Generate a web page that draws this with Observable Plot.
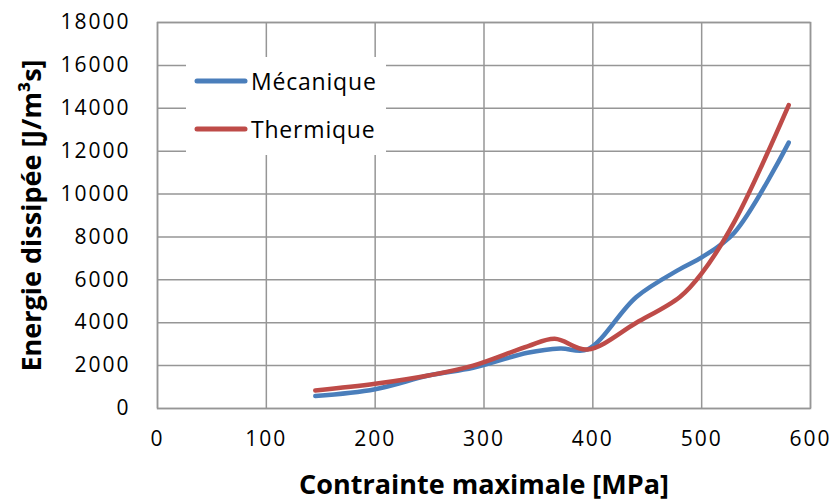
<!DOCTYPE html>
<html>
<head>
<meta charset="utf-8">
<script src="https://cdn.jsdelivr.net/npm/d3@7"></script>
<script src="https://cdn.jsdelivr.net/npm/@observablehq/plot@0.6"></script>
<style>
  html, body { margin: 0; padding: 0; background: #fff; }
  #wrap { position: relative; width: 834px; height: 504px; }
  #legend { position: absolute; left: 186px; top: 57px; width: 200px; height: 98px; background: #fff;
            font-family: "Open Sans", sans-serif; font-size: 23px; letter-spacing: 0.8px; color: #000; }
  .item { position: absolute; left: 8px; display: flex; align-items: center; }
  .item svg { display: block; margin-right: 3px; }
  #chart svg g[aria-label="x-axis tick label"],
  #chart svg g[aria-label="y-axis tick label"] { font-size: 21px; letter-spacing: 2px; fill: #000; }
</style>
</head>
<body>
<div id="wrap">
  <div id="chart"></div>
  <div id="legend"></div>
</div>
<script>
const seriesNames = ["Mécanique", "Thermique"];
const seriesColors = ["#4a7ebb", "#be4b48"];
const stressMeca = [145, 200, 250, 290, 340, 370, 395, 440, 480, 500, 530, 580];
const energyMeca = [580, 900, 1550, 1900, 2600, 2800, 2750, 5200, 6500, 7050, 8200, 12400];
const stressTherm = [145, 200, 250, 290, 340, 365, 395, 440, 480, 500, 530, 580];
const energyTherm = [840, 1150, 1550, 2000, 2900, 3250, 2750, 4000, 5200, 6300, 8700, 14150];
const xTicks = [0, 100, 200, 300, 400, 500, 600];
const yTicks = [0, 2000, 4000, 6000, 8000, 10000, 12000, 14000, 16000, 18000];
const xTitle = "Contrainte maximale [MPa]";
const yTitle = "Energie dissipée [J/m³s]";

const rows = [];
stressMeca.forEach((s, i) => rows.push({serie: seriesNames[0], x: s, y: energyMeca[i]}));
stressTherm.forEach((s, i) => rows.push({serie: seriesNames[1], x: s, y: energyTherm[i]}));

const chart = Plot.plot({
  width: 834,
  height: 504,
  marginLeft: 157,
  marginRight: 24,
  marginTop: 22,
  marginBottom: 96,
  style: {fontFamily: "Open Sans, sans-serif", color: "#000", background: "#fff"},
  x: {domain: [0, 600]},
  y: {domain: [0, 18000]},
  color: {domain: seriesNames, range: seriesColors},
  marks: [
    Plot.gridX(xTicks, {stroke: "#969696", strokeOpacity: 1, strokeWidth: 1.5}),
    Plot.gridY(yTicks, {stroke: "#969696", strokeOpacity: 1, strokeWidth: 1.5}),
    Plot.frame({stroke: "#969696", strokeWidth: 1.5}),
    Plot.axisX(xTicks, {tickSize: 0, tickPadding: 23, fontSize: 21, tickFormat: d3.format("d"),
      label: xTitle, labelAnchor: "center", labelArrow: "none", labelOffset: 85}),
    Plot.axisY(yTicks, {tickSize: 0, tickPadding: 27, fontSize: 21, tickFormat: d3.format("d"),
      label: yTitle, labelAnchor: "center", labelArrow: "none", labelOffset: 136}),
    Plot.line(rows, {x: "x", y: "y", z: "serie", stroke: "serie", strokeWidth: 4.5,
      curve: "catmull-rom", strokeLinecap: "round"})
  ]
});
d3.select(chart).selectAll('g[aria-label="x-axis label"] text, g[aria-label="y-axis label"] text')
  .attr("font-weight", "bold").attr("font-size", 27);
document.getElementById("chart").appendChild(chart);

const legend = document.getElementById("legend");
seriesNames.forEach((n, i) => {
  const d = document.createElement("div");
  d.className = "item";
  d.style.top = (i === 0 ? 8 : 56) + "px";
  d.innerHTML = `<svg width="54" height="10"><line x1="3" y1="5" x2="51" y2="5" stroke="${seriesColors[i]}" stroke-width="5" stroke-linecap="round"/></svg><span>${n}</span>`;
  legend.appendChild(d);
});
</script>
</body>
</html>
